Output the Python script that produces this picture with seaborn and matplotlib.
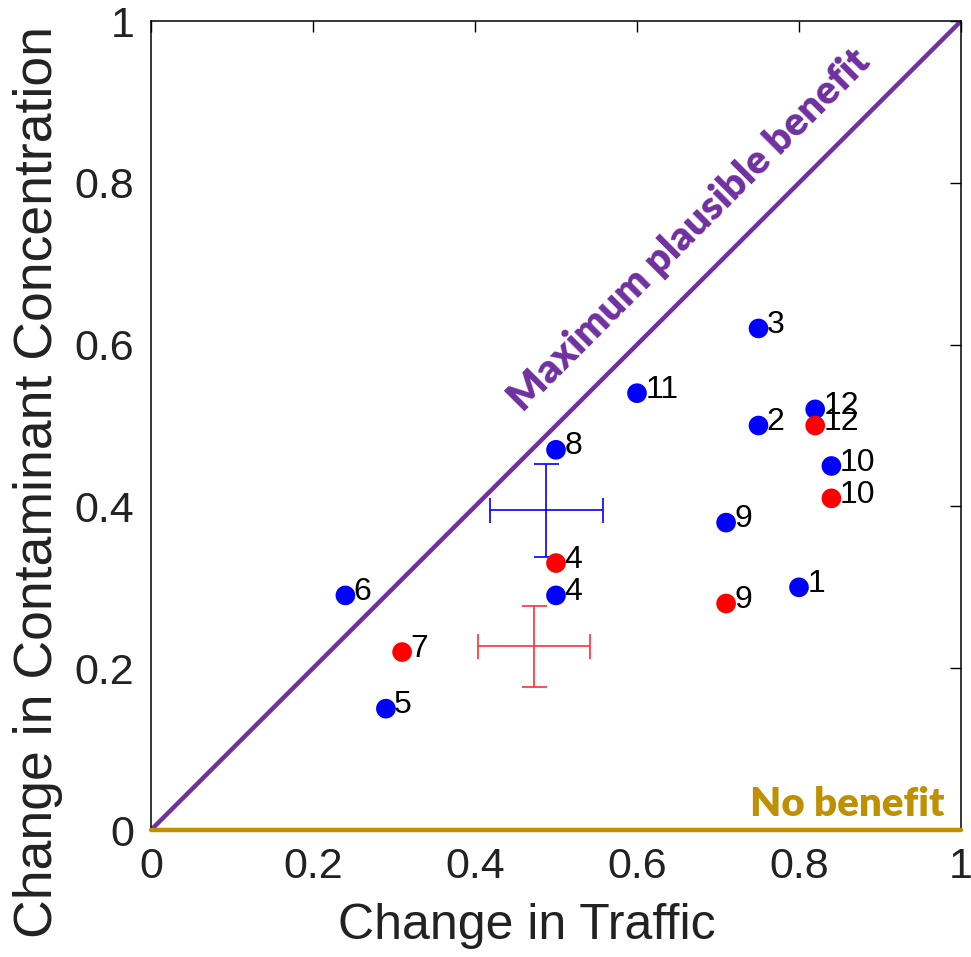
import matplotlib
matplotlib.use("Agg")
import matplotlib.pyplot as plt
import seaborn as sns
import pandas as pd
import numpy as np

# Data
blue_ids = ["1", "2", "3", "4", "5", "6", "8", "9", "10", "11", "12"]
blue_x = [0.80, 0.75, 0.75, 0.50, 0.29, 0.24, 0.50, 0.71, 0.84, 0.60, 0.82]
blue_y = [0.30, 0.50, 0.62, 0.29, 0.15, 0.29, 0.47, 0.38, 0.45, 0.54, 0.52]

red_ids = ["4", "7", "9", "10", "12"]
red_x = [0.50, 0.31, 0.71, 0.84, 0.82]
red_y = [0.33, 0.22, 0.28, 0.41, 0.50]

# mean +/- error
blue_mean = (0.488, 0.395)
blue_err = (0.070, 0.057)
red_mean = (0.473, 0.227)
red_err = (0.069, 0.050)

ticks = [0, 0.2, 0.4, 0.6, 0.8, 1]
tick_labels = ["0", "0.2", "0.4", "0.6", "0.8", "1"]

sns.set_theme(style="white")
plt.rcParams["font.family"] = ["Liberation Sans", "DejaVu Sans"]

fig = plt.figure(figsize=(9.71, 9.57), dpi=100)
ax = fig.add_axes([0.1555, 0.1327, 0.8342, 0.8453])

df = pd.DataFrame({
    "x": blue_x + red_x,
    "y": blue_y + red_y,
    "grp": ["b"] * len(blue_x) + ["r"] * len(red_x),
    "id": blue_ids + red_ids,
})

# lines
ax.plot([0, 1], [0, 1], color="#7030A0", lw=3.2, zorder=2, solid_capstyle="butt")
ax.plot([0, 1], [0, 0], color="#BF9000", lw=3.2, zorder=4, clip_on=False)

sns.scatterplot(data=df, x="x", y="y", hue="grp",
                palette={"b": "#0000FF", "r": "#FF0000"},
                s=200, edgecolor="none", legend=False, ax=ax, zorder=3)

for _, r in df.iterrows():
    ax.annotate(r["id"], (r["x"], r["y"]), xytext=(6, 2.5), textcoords="offset points",
                ha="left", va="center", fontsize=23, color="black", zorder=5)

ax.errorbar([blue_mean[0]], [blue_mean[1]], xerr=[blue_err[0]], yerr=[blue_err[1]],
            fmt="none", ecolor="#0000FF", elinewidth=1.2, capsize=9, capthick=1.2, zorder=2)
ax.errorbar([red_mean[0]], [red_mean[1]], xerr=[red_err[0]], yerr=[red_err[1]],
            fmt="none", ecolor="#FF3030", elinewidth=1.2, capsize=9, capthick=1.2, zorder=2)

ax.text(0.665, 0.741, "Maximum plausible benefit", rotation=45, rotation_mode="anchor",
        ha="center", va="center", color="#7030A0", fontsize=29, fontweight="heavy",
        family=["Lato", "DejaVu Sans"], transform=ax.transData)
ax.text(0.98, 0.017, "No benefit", ha="right", va="baseline", color="#BF9000",
        fontsize=29, fontweight="heavy", family=["Lato", "DejaVu Sans"])

ax.set_xlim(0, 1)
ax.set_ylim(0, 1)
ax.set_xticks(ticks)
ax.set_xticklabels(tick_labels)
ax.set_yticks(ticks)
ax.set_yticklabels(tick_labels)
ax.tick_params(direction="in", length=8, width=1, colors="black",
               labelsize=31, pad=12, top=True, right=True)
ax.tick_params(labelcolor="#222222")
for sp in ax.spines.values():
    sp.set_color("black")
    sp.set_linewidth(1.1)
ax.set_xlabel("Change in Traffic", fontsize=36, color="#222222")
ax.xaxis.set_label_coords(0.464, -0.090, transform=ax.transAxes)
ax.set_ylabel("Change in Contaminant Concentration", fontsize=38.5, color="#222222")
ax.yaxis.set_label_coords(-0.14, 0.43, transform=ax.transAxes)
ax.yaxis.label.set_va("center")

fig.savefig("out.png", dpi=100, facecolor="white")
